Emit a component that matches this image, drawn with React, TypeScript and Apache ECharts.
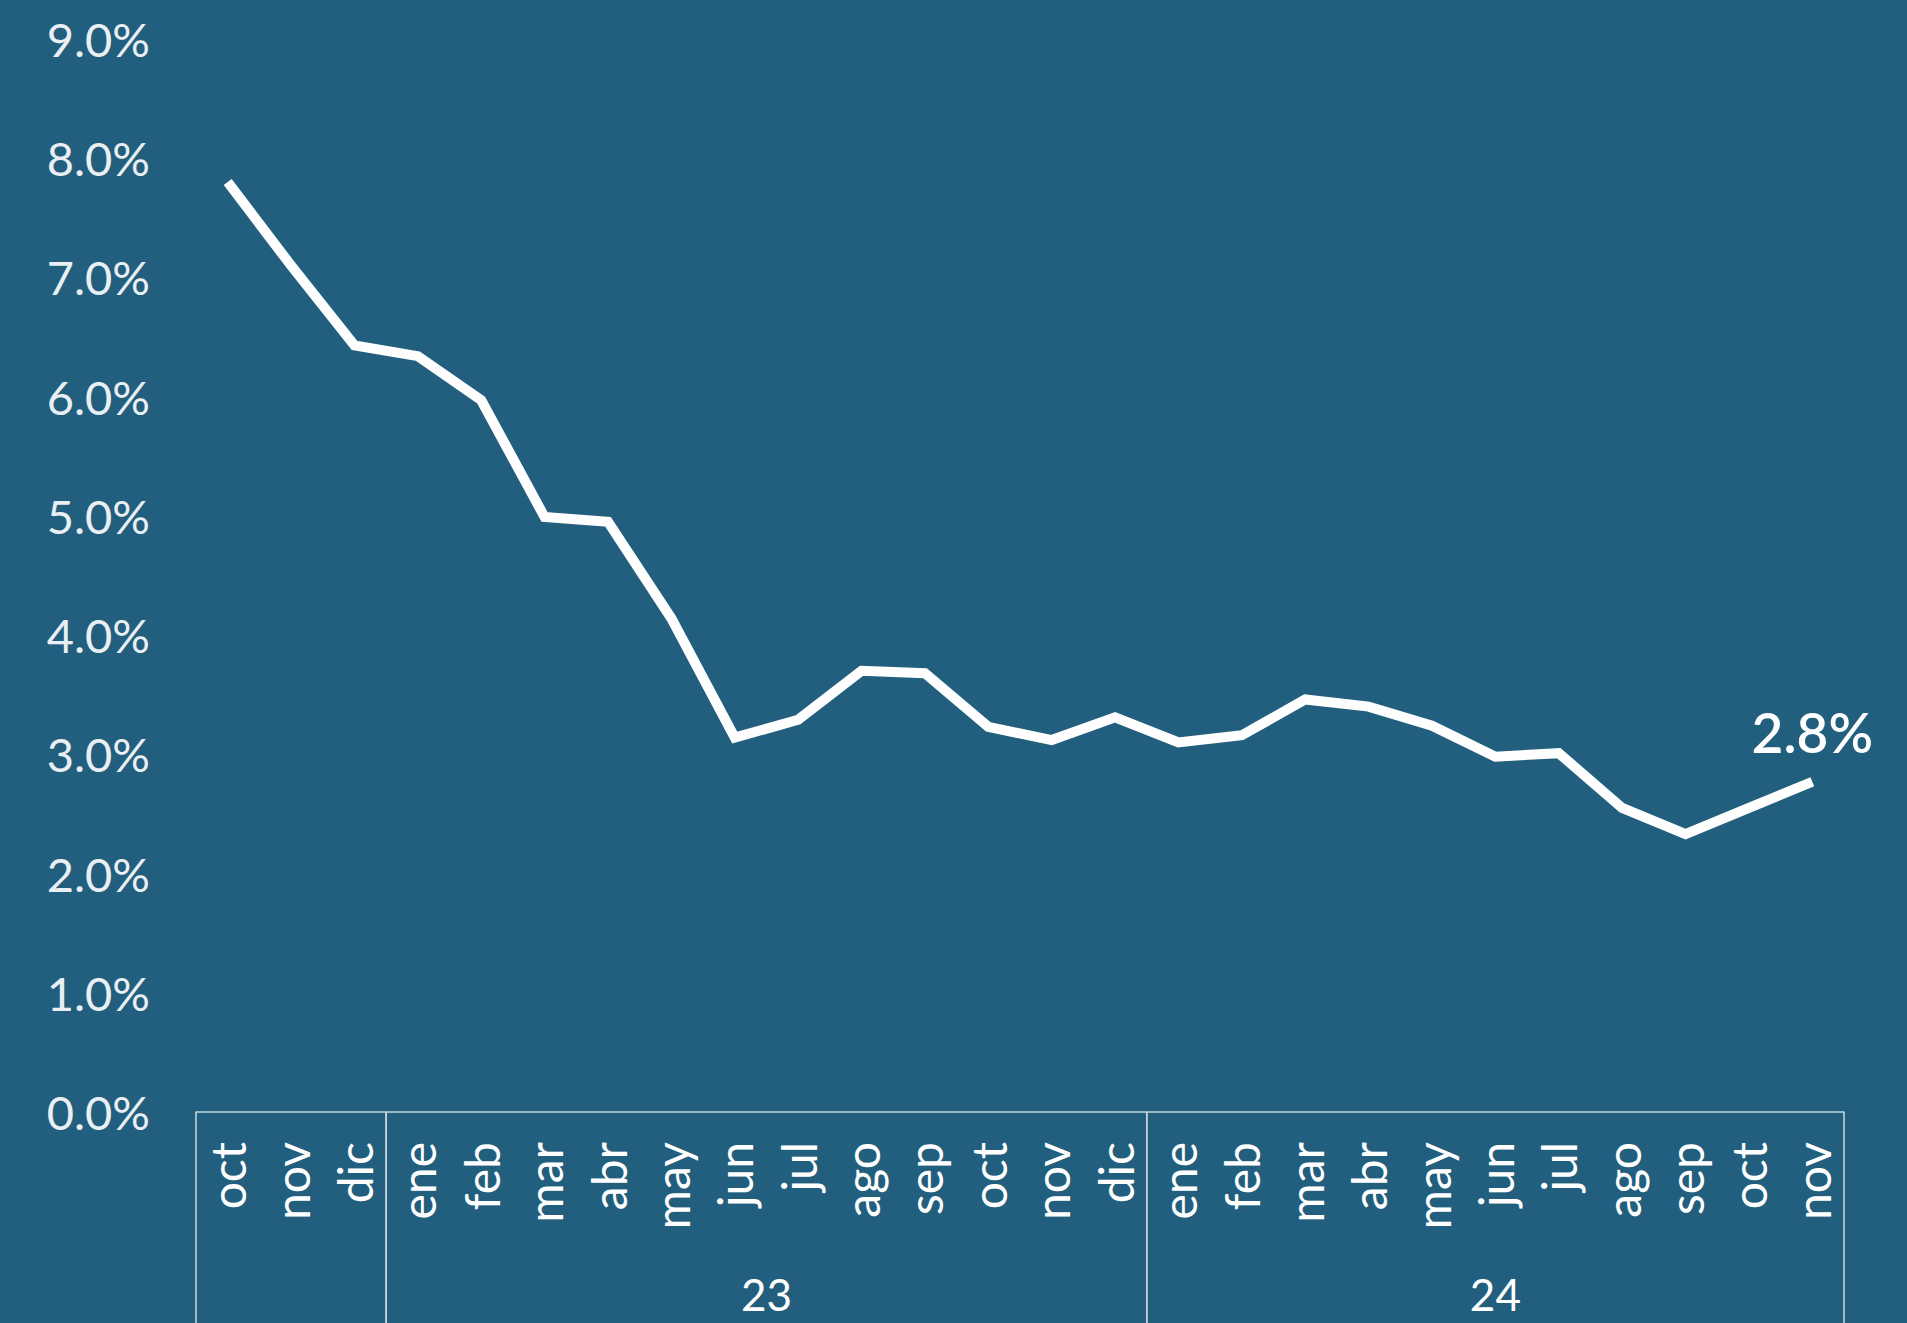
import React, { useEffect, useRef } from "react";
import * as echarts from "echarts";

const months = [
  "oct", "nov", "dic",
  "ene", "feb", "mar", "abr", "may", "jun", "jul", "ago", "sep", "oct", "nov", "dic",
  "ene", "feb", "mar", "abr", "may", "jun", "jul", "ago", "sep", "oct", "nov",
];
const values = [
  7.8, 7.1, 6.43,
  6.34, 5.97, 4.99, 4.95, 4.14, 3.14, 3.29, 3.7, 3.68, 3.23, 3.12, 3.31,
  3.1, 3.16, 3.46, 3.4, 3.24, 2.98, 3.01, 2.55, 2.33, 2.55, 2.77,
];
// year groups: [first index, last index, label]
const yearGroups: [number, number, string][] = [
  [0, 2, ""],
  [3, 14, "23"],
  [15, 25, "24"],
];
const yMin = 0;
const yMax = 9;
const yStep = 1;

const BG = "#225f7e";
const FONT = "Lato, 'Noto Sans', sans-serif";

export default function App() {
  const ref = useRef<HTMLDivElement>(null);
  useEffect(() => {
    document.body.style.margin = "0";
    document.body.style.background = BG;
    const chart = echarts.init(ref.current!, undefined, { renderer: "svg" });
    const lastIdx = values.length - 1;
    chart.setOption({
      animation: false,
      backgroundColor: BG,
      grid: { left: 196, right: 63, top: 39, bottom: 211, containLabel: false },
      xAxis: {
        type: "category",
        data: months,
        boundaryGap: true,
        axisLine: { show: true, lineStyle: { color: "#c9d6df", width: 1.5 } },
        axisTick: { show: false },
        axisLabel: {
          rotate: 90,
          interval: 0,
          margin: 30,
          color: "#ffffff",
          fontSize: 48,
          fontWeight: 400,
          fontFamily: FONT,
        },
        splitLine: { show: false },
      },
      yAxis: {
        type: "value",
        min: yMin,
        max: yMax,
        interval: yStep,
        axisLine: { show: false },
        axisTick: { show: false },
        splitLine: { show: false },
        axisLabel: {
          margin: 46,
          color: "#e9eff3",
          fontSize: 47,
          fontWeight: 400,
          fontFamily: FONT,
          formatter: (v: number) => `${v.toFixed(1)}%`,
        },
      },
      series: [
        {
          type: "line",
          data: values.map((v, i) =>
            i === lastIdx
              ? {
                  value: v,
                  label: {
                    show: true,
                    position: "top",
                    distance: 22,
                    color: "#ffffff",
                    fontSize: 55,
                    fontWeight: 600,
                    fontFamily: FONT,
                    formatter: (p: any) => `${Number(p.value).toFixed(1)}%`,
                  },
                }
              : v
          ),
          showSymbol: true,
          symbol: "circle",
          symbolSize: 0,
          itemStyle: { color: "#ffffff" },
          lineStyle: { color: "#ffffff", width: 10, join: "miter", cap: "butt" },
          z: 3,
        },
        {
          type: "custom",
          clip: false,
          silent: true,
          data: yearGroups.map((g) => [g[0], g[1], g[2]]),
          encode: { x: [0, 1] },
          renderItem: (params: any, api: any) => {
            const s = api.coord([api.value(0), 0]);
            const e = api.coord([api.value(1), 0]);
            const bw = api.size([1, 0])[0];
            const x1 = s[0] - bw / 2;
            const x2 = e[0] + bw / 2;
            const y = s[1];
            const label = yearGroups[params.dataIndex][2];
            const lineStyle = { stroke: "#c9d6df", lineWidth: 1.5 };
            return {
              type: "group",
              children: [
                { type: "line", shape: { x1, y1: y, x2: x1, y2: y + 260 }, style: lineStyle },
                { type: "line", shape: { x1: x2, y1: y, x2, y2: y + 260 }, style: lineStyle },
                {
                  type: "text",
                  style: {
                    text: label,
                    x: (x1 + x2) / 2,
                    y: y + 182,
                    align: "center",
                    verticalAlign: "middle",
                    fill: "#ffffff",
                    fontSize: 44,
                    fontWeight: 400,
                    fontFamily: FONT,
                  },
                },
              ],
            };
          },
          z: 2,
        },
      ],
    });
    return () => chart.dispose();
  }, []);
  return (
    <div
      ref={ref}
      style={{ position: "absolute", left: 0, top: 0, width: 1907, height: 1323, background: BG }}
    />
  );
}
